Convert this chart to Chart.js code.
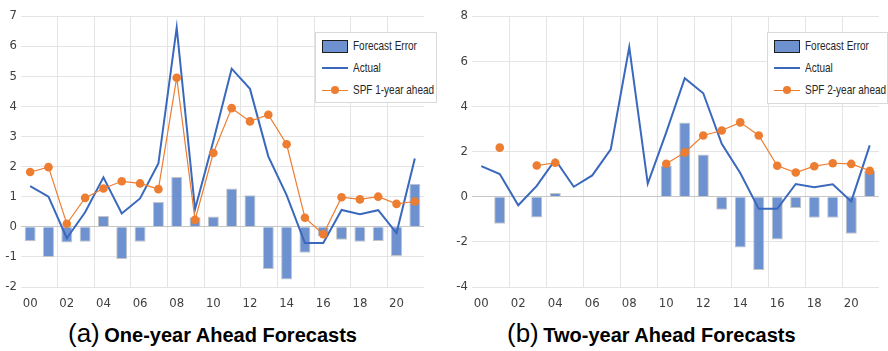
<!DOCTYPE html>
<html>
<head>
<meta charset="utf-8">
<script src="https://cdn.jsdelivr.net/npm/chart.js@4.4.1/dist/chart.umd.min.js"></script>
<style>
  html, body { margin:0; padding:0; background:#fff; }
  #wrap { position:relative; width:888px; height:351px; background:#fff; overflow:hidden; }
  .pane { position:absolute; top:0; width:444px; height:318px; }
  .legend { position:absolute; background:#fff; border:1px solid #d9d9d9; box-sizing:border-box;
            font-family:'Liberation Sans',Arial,sans-serif; font-size:13.5px; color:#262626; }
  .row { position:absolute; left:0; height:20px; line-height:20px; white-space:nowrap; }
  .sw { position:absolute; left:6px; }
  .lbl { position:absolute; left:37px; top:0; display:inline-block; transform:scaleX(0.74); transform-origin:0 50%; }
  .title { position:absolute; top:318px; white-space:nowrap; font-family:'Liberation Sans',Arial,sans-serif; color:#000; line-height:30px; }
  .title .p { font-size:26px; }
  .title .t { font-size:20px; font-weight:bold; }
</style>
</head>
<body>
<div id="wrap">
  <div class="pane" style="left:0"><canvas id="c1" width="444" height="318"></canvas></div>
  <div class="pane" style="left:444px"><canvas id="c2" width="444" height="318"></canvas></div>

  <div class="legend" style="left:315px;top:32px;width:122px;height:71px;">
    <div class="row" style="top:3px;"><div class="sw" style="top:4px;width:24px;height:11px;background:#6E91CF;border:1.5px solid #1f1f1f;"></div><span class="lbl">Forecast Error</span></div>
    <div class="row" style="top:25px;"><div class="sw" style="top:9px;width:26px;height:2px;background:#3A68BD;"></div><span class="lbl">Actual</span></div>
    <div class="row" style="top:47px;"><div class="sw" style="top:9.5px;width:26px;height:1px;background:#ED7D31;"></div><div class="sw" style="left:15px;top:6px;width:8px;height:8px;border-radius:50%;background:#ED7D31;"></div><span class="lbl">SPF 1-year ahead</span></div>
  </div>

  <div class="legend" style="left:767px;top:32px;width:121px;height:72px;">
    <div class="row" style="top:3px;"><div class="sw" style="top:4px;width:24px;height:11px;background:#6E91CF;border:1.5px solid #1f1f1f;"></div><span class="lbl">Forecast Error</span></div>
    <div class="row" style="top:25px;"><div class="sw" style="top:9px;width:26px;height:2px;background:#3A68BD;"></div><span class="lbl">Actual</span></div>
    <div class="row" style="top:47px;"><div class="sw" style="top:9.5px;width:26px;height:1px;background:#ED7D31;"></div><div class="sw" style="left:15px;top:6px;width:8px;height:8px;border-radius:50%;background:#ED7D31;"></div><span class="lbl">SPF 2-year ahead</span></div>
  </div>

  <div class="title" style="left:68px;"><span class="p">(a)</span> <span class="t">One-year Ahead Forecasts</span></div>
  <div class="title" style="left:507px;"><span class="p">(b)</span> <span class="t">Two-year Ahead Forecasts</span></div>
</div>

<script>
const years = ['00','01','02','03','04','05','06','07','08','09','10','11','12','13','14','15','16','17','18','19','20','21'];
const actual = [1.35, 1.0, -0.38, 0.48, 1.64, 0.44, 0.94, 2.1, 6.62, 0.58, 2.85, 5.25, 4.58, 2.34, 1.05, -0.54, -0.54, 0.56, 0.42, 0.55, -0.21, 2.27];
const spf1 = [1.82, 1.98, 0.1, 0.96, 1.27, 1.51, 1.44, 1.25, 4.95, 0.23, 2.45, 3.94, 3.5, 3.72, 2.74, 0.3, -0.25, 0.98, 0.91, 1.0, 0.76, 0.84];
const error1 = [-0.48, -1.0, -0.52, -0.5, 0.36, -1.07, -0.5, 0.82, 1.65, 0.32, 0.34, 1.27, 1.05, -1.4, -1.75, -0.86, -0.31, -0.43, -0.5, -0.47, -0.97, 1.43];
const spf2 = [null, 2.17, null, 1.38, 1.5, null, null, null, null, null, 1.46, 1.96, 2.71, 2.93, 3.29, 2.71, 1.37, 1.07, 1.35, 1.48, 1.45, 1.15];
const error2 = [null, -1.2, null, -0.92, 0.16, null, null, null, null, null, 1.38, 3.28, 1.87, -0.58, -2.25, -3.25, -1.9, -0.5, -0.93, -0.93, -1.64, 1.15];
const yTicks1 = { min: -2, max: 7, step: 1 };
const yTicks2 = { min: -4, max: 8, step: 2 };

const GRID = '#e4e4e4';
const ZERO = '#c6c6c6';
const TICKFONT = { family: "'DejaVu Sans Condensed','Liberation Sans',Arial,sans-serif", size: 13 };

function makeChart(id, spf, err, yt, yWidth, padRight) {
  return new Chart(document.getElementById(id), {
    type: 'bar',
    data: {
      labels: years,
      datasets: [
        { type: 'bar', label: 'Forecast Error', data: err, backgroundColor: '#6E91CF',
          borderColor: '#c4c4c4', borderWidth: 1, barPercentage: 0.6, categoryPercentage: 1.0, order: 3 },
        { type: 'line', label: 'Actual', data: actual, borderColor: '#3A68BD', borderWidth: 2,
          pointRadius: 0, tension: 0, fill: false, order: 2 },
        { type: 'line', label: 'SPF', data: spf, borderColor: '#ED7D31', borderWidth: 1.2,
          pointRadius: 4.3, pointBackgroundColor: '#ED7D31', pointBorderWidth: 0, pointHoverRadius: 4.3,
          tension: 0, fill: false, spanGaps: false, order: 1 }
      ]
    },
    options: {
      responsive: false,
      animation: false,
      devicePixelRatio: 1,
      layout: { padding: { left: 0, right: padRight, top: 16, bottom: 0 } },
      plugins: { legend: { display: false }, tooltip: { enabled: false }, title: { display: false } },
      scales: {
        x: {
          type: 'category',
          offset: true,
          border: { display: false },
          grid: {
            offset: true, drawTicks: false, lineWidth: 1,
            color: ctx => (ctx.index !== undefined && ctx.index > 0 && ctx.index % 2 === 0) ? GRID : 'rgba(0,0,0,0)'
          },
          ticks: {
            autoSkip: false, maxRotation: 0, minRotation: 0, padding: 9, color: '#404040', font: TICKFONT,
            callback: (v, i) => (i % 2 === 0 ? years[i] : '')
          },
          afterFit: s => { s.height = 31; }
        },
        y: {
          min: yt.min, max: yt.max,
          border: { display: false },
          grid: { drawTicks: false, lineWidth: 1, color: ctx => (ctx.tick && ctx.tick.value === 0) ? ZERO : GRID },
          ticks: { stepSize: yt.step, padding: 4, color: '#404040', font: TICKFONT },
          afterFit: s => { s.width = yWidth; }
        }
      }
    }
  });
}

makeChart('c1', spf1, error1, yTicks1, 21, 20);
makeChart('c2', spf2, error2, yTicks2, 28, 9);
</script>
</body>
</html>
